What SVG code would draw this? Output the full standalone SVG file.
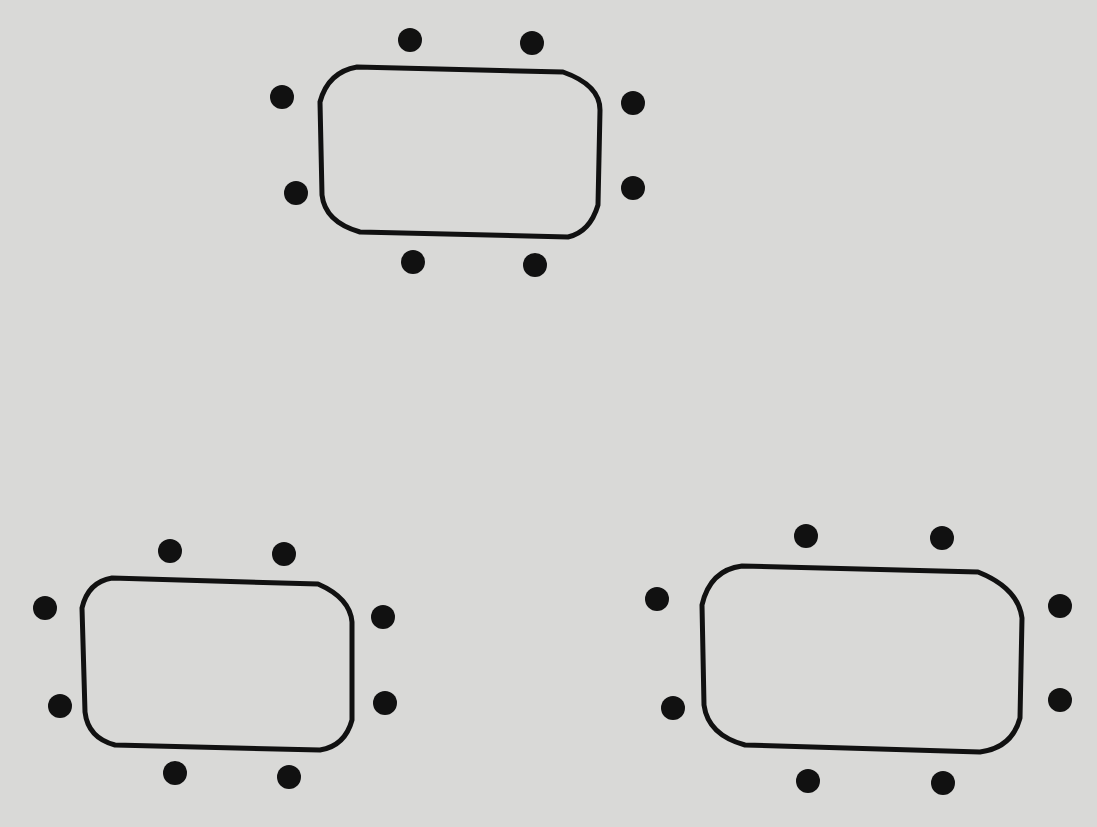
<svg xmlns="http://www.w3.org/2000/svg" width="1097" height="827" viewBox="0 0 1097 827">
<defs>
<style>
.table{fill:none;stroke:#111;stroke-width:5;stroke-linejoin:round}
.chair{fill:#111}
</style>
</defs>
<rect width="1097" height="827" fill="#d9d9d7"/>
<g id="table-top">
<path class="table" d="M357,67 L563,72 Q600,85 600,110 L598,205 Q590,232 568,237 L360,232 Q325,222 322,195 L320,102 Q328,72 357,67 Z"/>
<circle class="chair" cx="410" cy="40" r="12"/>
<circle class="chair" cx="532" cy="43" r="12"/>
<circle class="chair" cx="282" cy="97" r="12"/>
<circle class="chair" cx="633" cy="103" r="12"/>
<circle class="chair" cx="296" cy="193" r="12"/>
<circle class="chair" cx="633" cy="188" r="12"/>
<circle class="chair" cx="413" cy="262" r="12"/>
<circle class="chair" cx="535" cy="265" r="12"/>
</g>
<g id="table-left">
<path class="table" d="M112,578 L318,584 Q350,598 352,622 L352,720 Q345,746 320,750 L115,745 Q88,738 85,712 L82,608 Q88,582 112,578 Z"/>
<circle class="chair" cx="170" cy="551" r="12"/>
<circle class="chair" cx="284" cy="554" r="12"/>
<circle class="chair" cx="45" cy="608" r="12"/>
<circle class="chair" cx="383" cy="617" r="12"/>
<circle class="chair" cx="60" cy="706" r="12"/>
<circle class="chair" cx="385" cy="703" r="12"/>
<circle class="chair" cx="175" cy="773" r="12"/>
<circle class="chair" cx="289" cy="777" r="12"/>
</g>
<g id="table-right">
<path class="table" d="M742,566 L978,572 Q1018,588 1022,618 L1020,718 Q1012,748 980,752 L745,745 Q708,735 704,705 L702,605 Q710,570 742,566 Z"/>
<circle class="chair" cx="806" cy="536" r="12"/>
<circle class="chair" cx="942" cy="538" r="12"/>
<circle class="chair" cx="657" cy="599" r="12"/>
<circle class="chair" cx="1060" cy="606" r="12"/>
<circle class="chair" cx="673" cy="708" r="12"/>
<circle class="chair" cx="1060" cy="700" r="12"/>
<circle class="chair" cx="808" cy="781" r="12"/>
<circle class="chair" cx="943" cy="783" r="12"/>
</g>
<g id="connectors"></g>
</svg>
